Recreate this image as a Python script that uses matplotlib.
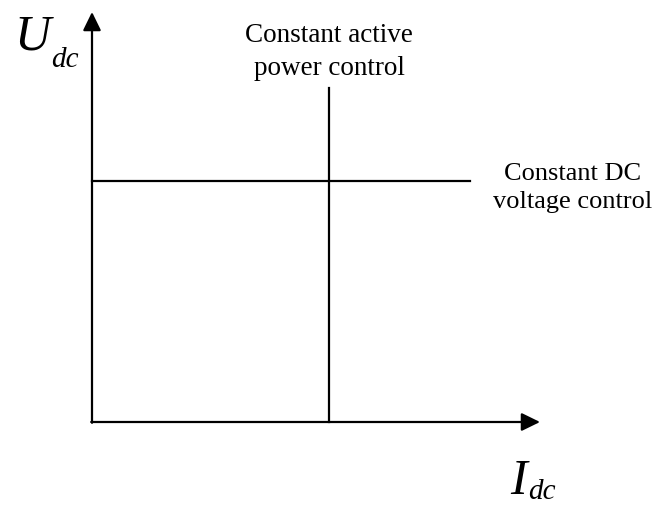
import matplotlib.pyplot as plt

# schematic values (in pixel-like units, origin at the axes crossing)
x_axis_len = 448
y_axis_len = 410
u_dc_ref = 241          # constant DC voltage level
u_dc_line_end = 378
p_ref = 237             # constant active power (current) position
p_line_top = 334

fig = plt.figure(figsize=(6.55, 5.07), dpi=100)
ax = fig.add_axes([0, 0, 1, 1])
ax.set_xlim(-92, 563)
ax.set_ylim(-85, 422)
ax.axis('off')

arrow = dict(arrowstyle='-|>,head_length=0.45,head_width=0.22',
             mutation_scale=25, lw=1.6, color='black', shrinkA=0, shrinkB=0)
ax.annotate('', xy=(0, y_axis_len), xytext=(0, -0.8), arrowprops=arrow)
ax.annotate('', xy=(x_axis_len, 0), xytext=(-0.8, 0), arrowprops=arrow)

ax.plot([0, u_dc_line_end], [u_dc_ref, u_dc_ref], color='black', lw=1.6)
ax.plot([p_ref, p_ref], [0, p_line_top], color='black', lw=1.6)

serif = ['Liberation Serif', 'DejaVu Serif']
ax.text(-78, 372, 'U', fontsize=36, style='italic', family=serif, va='baseline')
ax.text(-41, 355, 'dc', fontsize=21, style='italic', family=serif, va='baseline')
ax.text(418, -72, 'I', fontsize=36, style='italic', family=serif, va='baseline')
ax.text(436, -77, 'dc', fontsize=21, style='italic', family=serif, va='baseline')

ax.text(p_ref, 370, 'Constant active\npower control', fontsize=19.5, family=serif,
        ha='center', va='center', linespacing=1.4)
ax.text(481, 234, 'Constant DC\nvoltage control', fontsize=19, family=serif,
        ha='center', va='center', linespacing=1.4)

fig.savefig('out.png', dpi=100)
